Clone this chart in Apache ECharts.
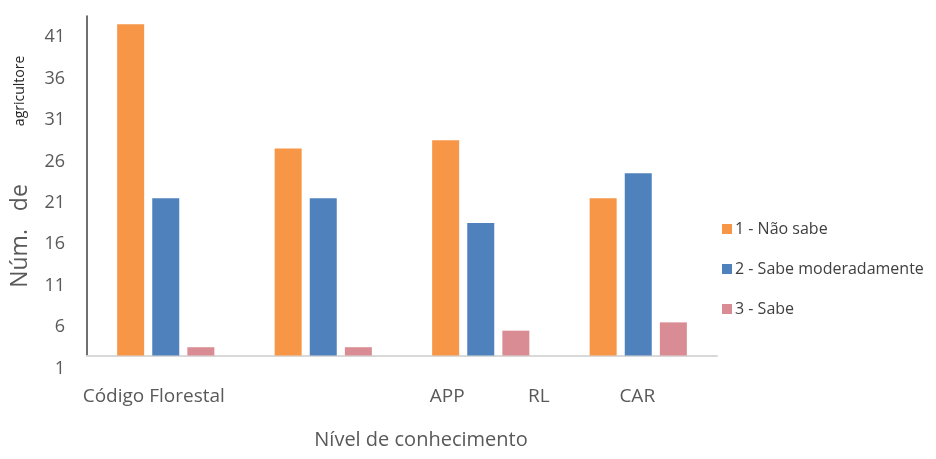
<!DOCTYPE html>
<html>
<head>
<meta charset="utf-8">
<script src="https://cdn.jsdelivr.net/npm/echarts@6/dist/echarts.min.js"></script>
<style>
  html, body { margin: 0; padding: 0; background: #ffffff; }
  #chart { width: 936px; height: 459px; }
</style>
</head>
<body>
<div id="chart"></div>
<script>
// Knowledge topics and counts of farmers per knowledge level
const categories = ['Código Florestal', 'APP', 'RL', 'CAR'];
const seriesNames = ['1 - Não sabe', '2 - Sabe moderadamente', '3 - Sabe'];
const naoSabe = [41, 26, 27, 20];
const sabeModeradamente = [20, 20, 17, 23];
const sabe = [2, 2, 4, 5];
const yTickLabels = [1, 6, 11, 16, 21, 26, 31, 36, 41];

const colors = ['#F79646', '#4F81BD', '#D98C93'];
const textColor = '#595959';
const font = '"Open Sans", "Noto Sans", sans-serif';

// horizontal nudge of each category label (px)
const labelShift = [-12, 124, 58, -1];

const chart = echarts.init(document.getElementById('chart'), null, { renderer: 'canvas' });

const rich = {};
labelShift.forEach((s, i) => {
  rich['c' + i] = {
    fontFamily: font,
    fontSize: 19,
    color: textColor,
    padding: s >= 0 ? [0, 0, 0, 2 * s] : [0, -2 * s, 0, 0]
  };
});

function bar(name, data, color) {
  return {
    name: name,
    type: 'bar',
    data: data,
    startValue: 1,
    barWidth: 27,
    barGap: '30%',
    itemStyle: { color: color },
    emphasis: { disabled: true }
  };
}

chart.setOption({
  animation: false,
  grid: { left: 87, right: 219, top: 16, bottom: 103.5 },
  legend: {
    orient: 'vertical',
    left: 717,
    top: 216,
    itemWidth: 10,
    itemHeight: 10,
    itemGap: 24,
    icon: 'rect',
    textStyle: {
      fontFamily: font, fontSize: 16, color: '#404040', lineHeight: 16,
      padding: [0, 0, 0, -2]
    },
    data: seriesNames
  },
  xAxis: {
    type: 'category',
    data: categories,
    axisLine: { show: true, lineStyle: { color: '#D9D9D9', width: 2 } },
    axisTick: { show: false },
    axisLabel: {
      interval: 0,
      margin: 32,
      formatter: (v, i) => '{c' + i + '|' + v + '}',
      rich: rich
    },
    name: 'Nível de conhecimento',
    nameLocation: 'middle',
    nameGap: 75,
    nameTextStyle: {
      fontFamily: font,
      fontSize: 20,
      color: textColor,
      padding: [0, 0, 0, 38]
    }
  },
  yAxis: {
    type: 'value',
    min: 1,
    max: 42,
    splitLine: { show: false },
    axisTick: { show: false },
    axisLine: { show: true, lineStyle: { color: '#404040', width: 1.5 } },
    axisLabel: {
      customValues: yTickLabels,
      margin: 22,
      verticalAlign: 'top',
      lineHeight: 18,
      padding: [4, 0, 0, 0],
      fontFamily: font,
      fontSize: 18,
      color: textColor
    },
    name: '{s|\u00a0}{a|Núm.\u00a0\u00a0\u00a0de}{g|\u00a0}{b|agricultore}',
    nameLocation: 'middle',
    nameRotate: 90,
    nameGap: 55,
    nameTextStyle: {
      rich: {
        s: { width: 28, fontSize: 12 },
        a: { fontFamily: font, fontSize: 23, color: textColor, verticalAlign: 'middle' },
        g: { width: 58, fontSize: 12 },
        b: { fontFamily: font, fontSize: 14, color: '#262626', verticalAlign: 'middle' }
      }
    }
  },
  series: [
    bar(seriesNames[0], naoSabe, colors[0]),
    bar(seriesNames[1], sabeModeradamente, colors[1]),
    bar(seriesNames[2], sabe, colors[2])
  ]
});
</script>
</body>
</html>
